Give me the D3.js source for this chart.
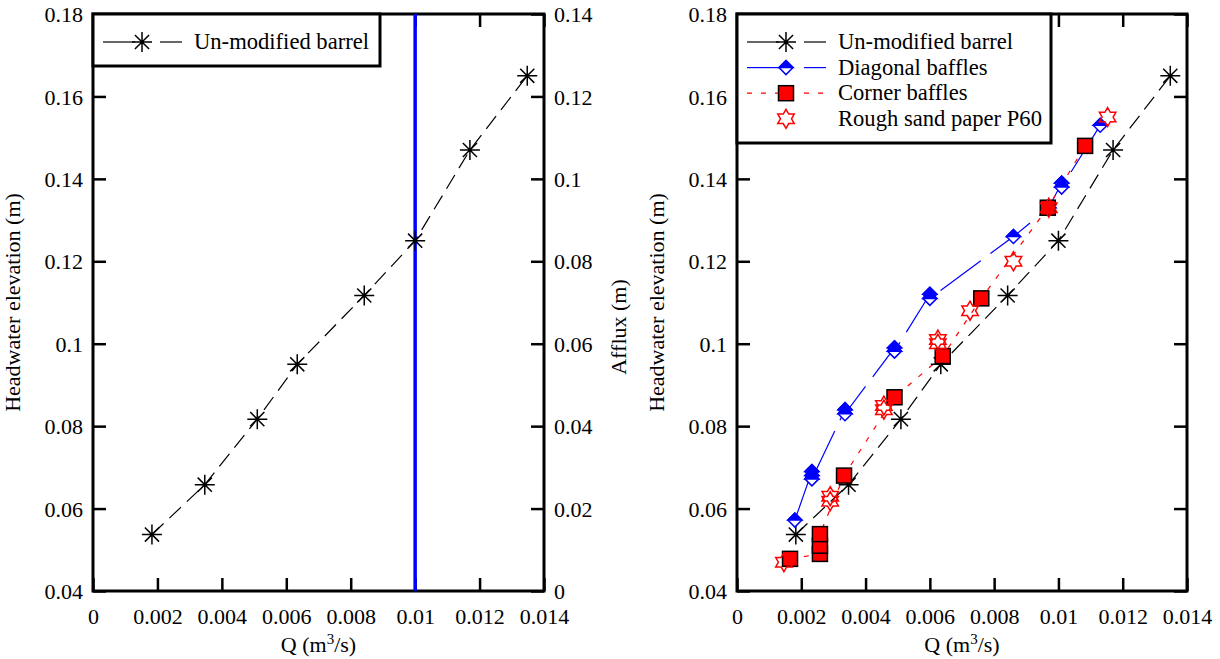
<!DOCTYPE html>
<html>
<head>
<meta charset="utf-8">
<script src="https://cdn.jsdelivr.net/npm/d3@7"></script>
<style>
  body { margin: 0; background: #fff; }
  svg { display: block; }
  text { font-family: "Liberation Serif", "Times New Roman", serif; fill: #000; }
</style>
</head>
<body>
<svg id="chart" width="1220" height="659"></svg>
<script>
// ---- data ----
var unmodQ    = [0.00183, 0.00347, 0.0051, 0.00634, 0.00842, 0.01, 0.0117, 0.01348];
var unmodH    = [0.0537, 0.0658, 0.0817, 0.0950, 0.1117, 0.125, 0.1470, 0.1650];

var diagQ     = [0.0018, 0.00233, 0.00233, 0.00233, 0.00336, 0.00336, 0.0049, 0.0049, 0.0060, 0.0060, 0.0086, 0.0097, 0.0101, 0.0101, 0.0113];
var diagH     = [0.0572, 0.0690, 0.0680, 0.0672, 0.0840, 0.0830, 0.0990, 0.0982, 0.1120, 0.1110, 0.1260, 0.1330, 0.1390, 0.1380, 0.1530];

var cornerQ   = [0.00165, 0.00258, 0.00258, 0.00258, 0.00333, 0.0049, 0.0064, 0.0076, 0.00967, 0.01083];
var cornerH   = [0.0478, 0.0490, 0.0510, 0.0538, 0.0680, 0.0870, 0.0970, 0.1110, 0.1330, 0.1480];

var roughQ    = [0.00146, 0.0029, 0.0029, 0.00457, 0.00457, 0.00625, 0.00625, 0.00725, 0.0086, 0.0097, 0.01153];
var roughH    = [0.0470, 0.0630, 0.0618, 0.0850, 0.0840, 0.1010, 0.1000, 0.1080, 0.1200, 0.1330, 0.1550];

var xTicks    = [0, 0.002, 0.004, 0.006, 0.008, 0.01, 0.012, 0.014];
var yTicks    = [0.04, 0.06, 0.08, 0.1, 0.12, 0.14, 0.16, 0.18];
var afTicks   = [0, 0.02, 0.04, 0.06, 0.08, 0.1, 0.12, 0.14];
var blueLineQ = 0.01;

var svg = d3.select("#chart");
var top0 = 14, bot0 = 591;
var FS = 22;

function pts(q, h) {
    return q.map(function (d, i) { return [d, h[i]]; });
}

// ---- marker painters ----
function asterisk(g, x, y, r) {
    var a = r * Math.SQRT1_2;
    var p = "M" + (x - r) + "," + y + "H" + (x + r) +
            "M" + x + "," + (y - r) + "V" + (y + r) +
            "M" + (x - a) + "," + (y - a) + "L" + (x + a) + "," + (y + a) +
            "M" + (x - a) + "," + (y + a) + "L" + (x + a) + "," + (y - a);
    g.append("path").attr("d", p).attr("stroke", "#000").attr("stroke-width", 1.5).attr("fill", "none");
}
function diamond(g, x, y, r) {
    g.append("path")
        .attr("d", "M" + (x - r) + "," + y + "L" + x + "," + (y - r) + "L" + (x + r) + "," + y + "L" + x + "," + (y + r) + "Z")
        .attr("fill", "#fff").attr("stroke", "#0000ff").attr("stroke-width", 1.5);
    g.append("path")
        .attr("d", "M" + (x - r) + "," + y + "L" + x + "," + (y - r) + "L" + (x + r) + "," + y + "Z")
        .attr("fill", "#0000ff").attr("stroke", "#0000ff").attr("stroke-width", 1.5);
}
function square(g, x, y, r) {
    g.append("rect").attr("x", x - r).attr("y", y - r).attr("width", 2 * r).attr("height", 2 * r)
        .attr("fill", "#ff0000").attr("stroke", "#000").attr("stroke-width", 1.5);
}
function hexstar(g, x, y, r) {
    var p = [];
    for (var k = 0; k < 12; k++) {
        var rr = (k % 2 === 0) ? r : r * 0.58;
        var ang = -Math.PI / 2 + k * Math.PI / 6;
        p.push([x + rr * Math.cos(ang), y + rr * Math.sin(ang)]);
    }
    g.append("path").attr("d", "M" + p.join("L") + "Z")
        .attr("fill", "none").attr("stroke", "#ff0000").attr("stroke-width", 1.5);
}

// ---- one panel ----
function drawPanel(x0, x1, opts) {
    var x = d3.scaleLinear().domain([0, 0.014]).range([x0, x1]);
    var y = d3.scaleLinear().domain([0.04, 0.18]).range([bot0, top0]);
    var g = svg.append("g");
    var line = d3.line().x(function (d) { return x(d[0]); }).y(function (d) { return y(d[1]); });

    // axes: ticks inward on all four sides
    var bottom = g.append("g").attr("transform", "translate(0," + bot0 + ")")
        .call(d3.axisBottom(x).tickValues(xTicks).tickSize(-13).tickPadding(22)
            .tickFormat(function (d) { return d === 0 ? "0" : d3.format("")(+d.toFixed(3)); }));
    var topAx = g.append("g").attr("transform", "translate(0," + top0 + ")")
        .call(d3.axisTop(x).tickValues(xTicks).tickSize(-13).tickFormat(""));
    var left = g.append("g").attr("transform", "translate(" + x0 + ",0)")
        .call(d3.axisLeft(y).tickValues(yTicks).tickSize(-13).tickPadding(10)
            .tickFormat(function (d) { return String(+d.toFixed(2)); }));
    var ya = d3.scaleLinear().domain([0, 0.14]).range([bot0, top0]);
    var right = g.append("g").attr("transform", "translate(" + x1 + ",0)")
        .call(d3.axisRight(ya).tickValues(afTicks).tickSize(-13).tickPadding(10)
            .tickFormat(opts.afflux ? function (d) { return String(+d.toFixed(2)); } : ""));
    [bottom, topAx, left, right].forEach(function (a) {
        a.select(".domain").remove();
        a.selectAll(".tick line").attr("stroke", "#000").attr("stroke-width", 2.5);
        a.selectAll(".tick text").attr("font-size", FS).attr("font-family", "Liberation Serif");
    });
    bottom.selectAll(".tick text").attr("dy", "0.5em");
    left.selectAll(".tick text").attr("dy", "0.35em");
    right.selectAll(".tick text").attr("dy", "0.35em");
    g.append("rect").attr("x", x0).attr("y", top0).attr("width", x1 - x0).attr("height", bot0 - top0)
        .attr("fill", "none").attr("stroke", "#000").attr("stroke-width", 3);

    // titles
    g.append("text").attr("x", (x0 + x1) / 2).attr("y", 652).attr("text-anchor", "middle").attr("font-size", FS)
        .html('Q (m<tspan dy="-8" font-size="15">3</tspan><tspan dy="8">/s)</tspan>');
    g.append("text").attr("transform", "translate(" + (x0 - 73) + "," + ((top0 + bot0) / 2) + ") rotate(-90)")
        .attr("text-anchor", "middle").attr("font-size", FS).text("Headwater elevation (m)");
    if (opts.afflux) {
        g.append("text").attr("transform", "translate(" + (x1 + 82) + "," + 327 + ") rotate(-90)")
            .attr("text-anchor", "middle").attr("font-size", FS).text("Afflux (m)");
        g.append("line").attr("x1", x(blueLineQ)).attr("x2", x(blueLineQ)).attr("y1", top0).attr("y2", bot0)
            .attr("stroke", "#0000ff").attr("stroke-width", 3.5);
    }

    var series = opts.series;
    series.forEach(function (s) {
        if (s.dash) {
            g.append("path").datum(s.line).attr("d", line).attr("fill", "none")
                .attr("stroke", s.color).attr("stroke-width", 1.2).attr("stroke-dasharray", s.dash);
        }
    });
    series.forEach(function (s) {
        s.data.forEach(function (d) { s.mark(g, x(d[0]), y(d[1]), s.r); });
    });

    // legend
    var lg = g.append("g");
    lg.append("rect").attr("x", x0).attr("y", top0).attr("width", opts.legW).attr("height", opts.legH)
        .attr("fill", "#fff").attr("stroke", "#000").attr("stroke-width", 3);
    series.forEach(function (s, i) {
        var ly = top0 + 28 + i * 25.6;
        var lx = x0;
        if (s.dash) {
            lg.append("line").attr("x1", lx + 10).attr("x2", lx + 42).attr("y1", ly).attr("y2", ly)
                .attr("stroke", s.color).attr("stroke-width", 1.2).attr("stroke-dasharray", s.legDash || null);
            lg.append("line").attr("x1", lx + 67).attr("x2", lx + 89).attr("y1", ly).attr("y2", ly)
                .attr("stroke", s.color).attr("stroke-width", 1.2).attr("stroke-dasharray", s.legDash || null);
        }
        s.mark(lg, lx + 49, ly, s.r);
        lg.append("text").attr("x", lx + 101).attr("y", ly + 7).attr("font-size", 22.6).text(s.name);
    });
}

var unmod = { name: "Un-modified barrel", data: pts(unmodQ, unmodH), line: pts(unmodQ, unmodH),
    color: "#000", dash: "16,8", mark: asterisk, r: 10 };

drawPanel(93, 544, { afflux: true, legW: 287, legH: 52, series: [unmod] });

drawPanel(737, 1187, { afflux: false, legW: 314, legH: 129, series: [
    unmod,
    { name: "Diagonal baffles", data: pts(diagQ, diagH), line: pts(diagQ, diagH),
      color: "#0000ff", dash: "50,12", mark: diamond, r: 7 },
    { name: "Corner baffles", data: pts(cornerQ, cornerH), line: pts(cornerQ, cornerH),
      color: "#ff0000", dash: "5,9", legDash: "5,9", mark: square, r: 7.5 },
    { name: "Rough sand paper P60", data: pts(roughQ, roughH), line: null,
      color: "#ff0000", dash: null, mark: hexstar, r: 9.5 }
]});
</script>
</body>
</html>
